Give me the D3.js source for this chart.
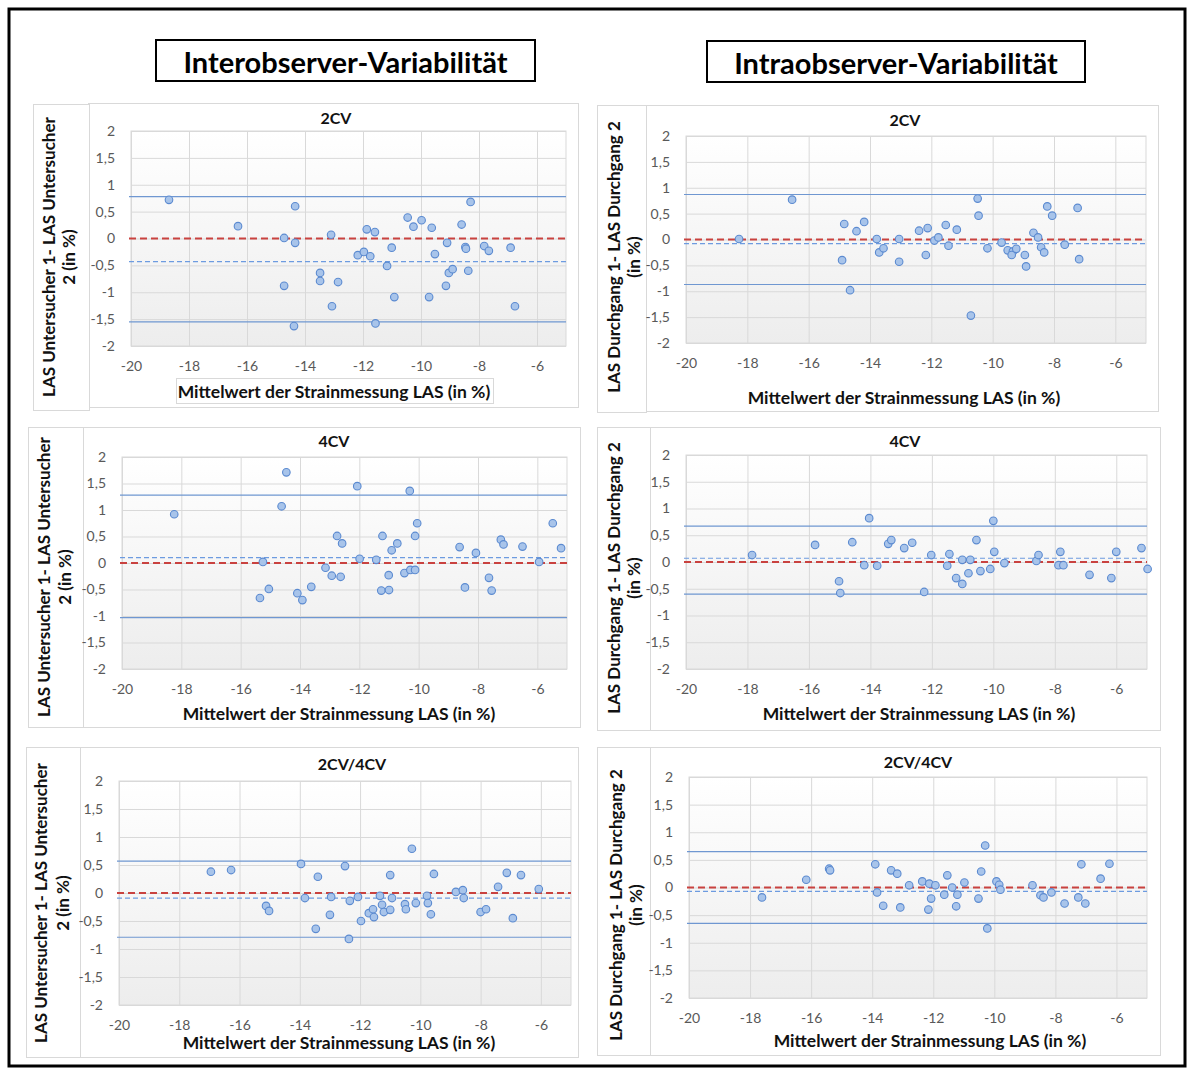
<!DOCTYPE html>
<html><head><meta charset="utf-8">
<script src="https://cdn.jsdelivr.net/npm/d3@7"></script>
<style>
html,body{margin:0;padding:0;background:#fff;}
svg text{font-family:Lato,"Open Sans",sans-serif;}
</style></head>
<body>
<svg id="c" width="1187" height="1068"></svg>
<script>
// ---------- DATA ----------
const yTickValues = [2, 1.5, 1, 0.5, 0, -0.5, -1, -1.5, -2];
const xTickValues = [-20, -18, -16, -14, -12, -10, -8, -6];
const headerLabels = ["Interobserver-Variabilität", "Intraobserver-Variabilität"];
const xAxisTitle = "Mittelwert der Strainmessung LAS (in %)";
const yTitleInter = ["LAS Untersucher 1- LAS Untersucher", "2 (in %)"];
const yTitleIntra = ["LAS Durchgang 1- LAS Durchgang 2", "(in %)"];
const chartTitles = ["2CV", "2CV", "4CV", "4CV", "2CV/4CV", "2CV/4CV"];

const inter2CV = [[-18.69,0.72],[-16.31,0.23],[-14.34,0.60],[-14.72,0.01],[-14.34,-0.08],[-14.72,-0.88],[-14.38,-1.63],[-13.10,0.07],[-13.48,-0.64],[-13.48,-0.79],[-12.86,-0.81],[-13.07,-1.26],[-11.87,0.17],[-11.59,0.12],[-12.18,-0.31],[-11.97,-0.25],[-11.75,-0.33],[-11.01,-0.17],[-11.17,-0.51],[-11.57,-1.58],[-10.92,-1.09],[-10.46,0.39],[-10.26,0.22],[-9.98,0.34],[-9.63,0.20],[-9.52,-0.29],[-9.72,-1.09],[-9.10,-0.08],[-9.14,-0.88],[-9.04,-0.64],[-8.91,-0.57],[-8.37,-0.60],[-8.60,0.26],[-8.29,0.68],[-8.47,-0.16],[-8.45,-0.19],[-7.82,-0.14],[-7.66,-0.23],[-6.91,-0.17],[-6.76,-1.26]];
const inter2CVLines = [0.78, -0.43, -1.55];

const intra2CV = [[-18.27,0.01],[-16.54,0.77],[-14.84,0.30],[-14.44,0.16],[-14.19,0.34],[-13.78,0.01],[-13.70,-0.25],[-13.56,-0.17],[-14.91,-0.40],[-14.65,-0.98],[-13.05,0.01],[-13.05,-0.43],[-12.40,0.17],[-12.12,0.22],[-12.18,-0.30],[-11.90,-0.02],[-11.77,0.04],[-11.53,0.28],[-11.44,-0.12],[-11.17,0.19],[-10.49,0.79],[-10.46,0.46],[-10.71,-1.47],[-10.17,-0.17],[-9.71,-0.06],[-9.51,-0.21],[-9.34,-0.23],[-9.38,-0.30],[-9.23,-0.18],[-8.95,-0.30],[-8.91,-0.52],[-8.67,0.13],[-8.52,0.04],[-8.42,-0.15],[-8.32,-0.25],[-8.22,0.64],[-8.06,0.46],[-7.65,-0.10],[-7.23,0.61],[-7.18,-0.38]];
const intra2CVLines = [0.87, -0.08, -0.87];

const inter4CV = [[-18.24,0.92],[-14.46,1.71],[-14.62,1.07],[-15.25,0.02],[-15.35,-0.66],[-15.05,-0.49],[-14.09,-0.57],[-13.92,-0.70],[-13.62,-0.45],[-13.14,-0.09],[-12.93,-0.24],[-12.63,-0.26],[-12.75,0.51],[-12.58,0.37],[-12.07,1.45],[-11.99,0.08],[-11.43,0.06],[-11.22,0.51],[-11.26,-0.52],[-11.00,-0.51],[-11.01,-0.23],[-10.91,0.24],[-10.72,0.37],[-10.30,1.36],[-10.05,0.75],[-10.12,0.51],[-10.48,-0.19],[-10.28,-0.13],[-10.12,-0.13],[-8.62,0.30],[-8.44,-0.46],[-8.07,0.19],[-7.63,-0.28],[-7.54,-0.52],[-7.23,0.44],[-7.14,0.35],[-6.50,0.31],[-5.94,0.02],[-5.48,0.75],[-5.20,0.28]];
const inter4CVLines = [1.28, 0.10, -1.03];

const intra4CV = [[-17.85,0.13],[-15.80,0.32],[-14.59,0.37],[-14.04,0.82],[-14.20,-0.06],[-13.78,-0.07],[-13.42,0.34],[-13.32,0.41],[-12.90,0.26],[-12.64,0.36],[-15.02,-0.36],[-14.98,-0.58],[-12.25,-0.56],[-12.02,0.13],[-11.50,-0.07],[-11.43,0.15],[-11.21,-0.30],[-11.01,-0.41],[-11.01,0.04],[-10.81,-0.21],[-10.75,0.04],[-10.55,0.41],[-10.42,-0.17],[-10.10,-0.13],[-10.00,0.77],[-9.97,0.19],[-9.64,-0.02],[-8.60,0.02],[-8.53,0.13],[-7.88,-0.06],[-7.82,0.19],[-7.72,-0.06],[-6.87,-0.24],[-6.16,-0.30],[-6.00,0.19],[-5.18,0.26],[-4.98,-0.13]];
const intra4CVLines = [0.67, 0.07, -0.60];

const inter2CV4CV = [[-16.95,0.38],[-16.28,0.41],[-15.12,-0.23],[-15.02,-0.32],[-13.96,0.52],[-13.83,-0.09],[-13.40,0.29],[-13.47,-0.64],[-13.00,-0.39],[-12.96,-0.07],[-12.50,0.48],[-12.37,-0.82],[-12.34,-0.14],[-12.07,-0.07],[-11.97,-0.50],[-11.71,-0.36],[-11.57,-0.29],[-11.54,-0.43],[-11.34,-0.05],[-11.27,-0.21],[-11.21,-0.34],[-11.00,-0.30],[-11.00,0.32],[-10.94,-0.09],[-10.51,-0.20],[-10.48,-0.29],[-10.28,0.79],[-10.15,-0.18],[-9.78,-0.05],[-9.75,-0.18],[-9.65,-0.38],[-9.55,0.34],[-8.82,0.02],[-8.59,0.05],[-8.56,-0.09],[-8.00,-0.34],[-7.82,-0.29],[-7.42,0.11],[-7.13,0.36],[-6.93,-0.45],[-6.66,0.32],[-6.07,0.07]];
const inter2CV4CVLines = [0.57, -0.09, -0.79];

const intra2CV4CV = [[-17.61,-0.18],[-16.16,0.14],[-15.41,0.34],[-15.38,0.31],[-13.90,0.42],[-13.84,-0.09],[-13.64,-0.33],[-13.38,0.31],[-13.18,0.25],[-13.08,-0.36],[-12.79,0.04],[-12.36,0.11],[-12.16,-0.40],[-12.13,0.07],[-12.07,-0.20],[-11.93,0.04],[-11.64,-0.13],[-11.54,0.22],[-11.38,0.00],[-11.25,-0.34],[-11.21,-0.13],[-10.98,0.09],[-10.52,-0.20],[-10.30,0.76],[-10.23,-0.74],[-10.43,0.29],[-9.93,0.11],[-9.84,0.05],[-9.80,-0.04],[-8.75,0.04],[-8.49,-0.14],[-8.39,-0.18],[-8.13,-0.09],[-7.70,-0.29],[-7.25,-0.18],[-7.15,0.42],[-7.02,-0.29],[-6.52,0.16],[-6.23,0.43]];
const intra2CV4CVLines = [0.65, -0.07, -0.65];

// ---------- LAYOUT ----------
const panels = [
  {pts: inter2CV, lines: inter2CVLines, title: chartTitles[0], yt: yTitleInter,
   plot:[131,131,566,346], box:[88,103,578,407], tbox:[33,104,89,410], tx:336, ty:117, xtx:334, xty:391, xbox:true, ytx:[48,68], yty:257},
  {pts: intra2CV, lines: intra2CVLines, title: chartTitles[1], yt: yTitleIntra,
   plot:[686,136,1146,343], box:[646,105,1158,411], tbox:[597,105,646,412], tx:905, ty:119, xtx:904, xty:397, xbox:false, ytx:[613,633], yty:257},
  {pts: inter4CV, lines: inter4CVLines, title: chartTitles[2], yt: yTitleInter,
   plot:[122,457,567,669], box:[83,427,580,727], tbox:[28,427,83,727], tx:334, ty:440, xtx:339, xty:713, xbox:false, ytx:[43,64], yty:577},
  {pts: intra4CV, lines: intra4CVLines, title: chartTitles[3], yt: yTitleIntra,
   plot:[686,455,1147,669], box:[650,427,1160,730], tbox:[597,427,650,730], tx:905, ty:440, xtx:919, xty:713, xbox:false, ytx:[613,633], yty:578},
  {pts: inter2CV4CV, lines: inter2CV4CVLines, title: chartTitles[4], yt: yTitleInter,
   plot:[119,781,571,1005], box:[80,747,578,1057], tbox:[26,747,80,1057], tx:352, ty:763, xtx:339, xty:1042, xbox:false, ytx:[40,62], yty:903},
  {pts: intra2CV4CV, lines: intra2CV4CVLines, title: chartTitles[5], yt: yTitleIntra,
   plot:[689,777,1147,998], box:[650,747,1160,1055], tbox:[597,747,650,1055], tx:918, ty:761, xtx:930, xty:1040, xbox:false, ytx:[615,635], yty:905}
];

const svg = d3.select("#c");
const defs = svg.append("defs");
const grad = defs.append("linearGradient").attr("id","pa").attr("x1",0).attr("y1",0).attr("x2",0).attr("y2",1);
grad.append("stop").attr("offset","0%").attr("stop-color","#ffffff");
grad.append("stop").attr("offset","100%").attr("stop-color","#ededed");

const fmt = v => String(v).replace(".", ",");

panels.forEach(p => {
  const g = svg.append("g");
  const [bx0,by0,bx1,by1] = p.box;
  g.append("rect").attr("x",bx0+0.5).attr("y",by0+0.5).attr("width",bx1-bx0).attr("height",by1-by0)
    .attr("fill","#fff").attr("stroke","#d9d9d9");
  const [tx0,ty0,tx1,ty1] = p.tbox;
  g.append("rect").attr("x",tx0+0.5).attr("y",ty0+0.5).attr("width",tx1-tx0).attr("height",ty1-ty0)
    .attr("fill","#fff").attr("stroke","#d9d9d9");

  const [px0,py0,px1,py1] = p.plot;
  const x = d3.scaleLinear().domain([-20,-5]).range([px0,px1]);
  const y = d3.scaleLinear().domain([-2,2]).range([py1,py0]);

  g.append("rect").attr("x",px0).attr("y",py0).attr("width",px1-px0).attr("height",py1-py0)
    .attr("fill","url(#pa)").attr("stroke","#d9d9d9");

  // gridlines
  g.append("g").attr("transform",`translate(0,${py1})`)
    .call(d3.axisBottom(x).tickValues(xTickValues).tickSize(-(py1-py0)).tickFormat(""))
    .call(a=>{a.select(".domain").remove(); a.selectAll("line").attr("stroke","#d9d9d9");});
  g.append("g").attr("transform",`translate(${px0},0)`)
    .call(d3.axisLeft(y).tickValues(yTickValues).tickSize(-(px1-px0)).tickFormat(""))
    .call(a=>{a.select(".domain").remove(); a.selectAll("line").attr("stroke","#d9d9d9");});

  // tick labels
  g.append("g").attr("transform",`translate(0,${py1+12})`)
    .call(d3.axisBottom(x).tickValues(xTickValues).tickSize(0).tickFormat(fmt))
    .call(a=>{a.select(".domain").remove(); a.selectAll("text").attr("fill","#595959").attr("font-size","14px").attr("font-family","Lato");});
  g.append("g").attr("transform",`translate(${px0-13},0)`)
    .call(d3.axisLeft(y).tickValues(yTickValues).tickSize(0).tickFormat(fmt))
    .call(a=>{a.select(".domain").remove(); a.selectAll("text").attr("fill","#595959").attr("font-size","14px").attr("font-family","Lato");});

  // reference lines
  const [up, mean, lo] = p.lines;
  const hl = (v, col, w, dash) => g.append("line").attr("x1",px0-2).attr("x2",px1).attr("y1",y(v)).attr("y2",y(v))
      .attr("stroke",col).attr("stroke-width",w).attr("stroke-dasharray",dash||null);
  hl(up, "#6f97d1", 1.2);
  hl(lo, "#6f97d1", 1.2);
  hl(mean, "#6d9be0", 1.2, "5,3");
  hl(0, "#c9423f", 2, "7,4");

  // points
  g.append("g").selectAll("circle").data(p.pts).join("circle")
    .attr("cx",d=>x(d[0])).attr("cy",d=>y(d[1])).attr("r",3.8)
    .attr("fill","#a8c4ea").attr("stroke","#5b8ad0").attr("stroke-width",1.1);

  // chart title
  g.append("text").attr("x",p.tx).attr("y",p.ty).attr("text-anchor","middle").attr("dominant-baseline","central")
    .attr("font-weight","bold").attr("font-size","16px").attr("fill","#111").text(p.title);

  // x axis title
  if (p.xbox) {
    g.append("rect").attr("x",176.5).attr("y",378.5).attr("width",317).attr("height",25)
      .attr("fill","#fff").attr("stroke","#d9d9d9");
  }
  g.append("text").attr("x",p.xtx).attr("y",p.xty).attr("text-anchor","middle").attr("dominant-baseline","central")
    .attr("font-weight","bold").attr("font-size","17.5px").attr("fill","#111").text(xAxisTitle);

  // y axis title (rotated, two lines)
  p.yt.forEach((line, i) => {
    g.append("text").attr("transform",`translate(${p.ytx[i]},${p.yty}) rotate(-90)`)
      .attr("text-anchor","middle").attr("dominant-baseline","central")
      .attr("font-weight","bold").attr("font-size","17px").attr("fill","#111").text(line);
  });
});

// headers
const hdr = [[156,40,535,81],[707,41,1085,82]];
hdr.forEach((h,i)=>{
  svg.append("rect").attr("x",h[0]).attr("y",h[1]).attr("width",h[2]-h[0]).attr("height",h[3]-h[1])
    .attr("fill","#fff").attr("stroke","#000").attr("stroke-width",2);
  svg.append("text").attr("x",(h[0]+h[2])/2).attr("y",(h[1]+h[3])/2+1).attr("text-anchor","middle").attr("dominant-baseline","central")
    .attr("font-weight","bold").attr("font-size","29px").attr("fill","#000").text(headerLabels[i]);
});

// outer frame
svg.append("rect").attr("x",9).attr("y",9).attr("width",1176).attr("height",1057)
  .attr("fill","none").attr("stroke","#000").attr("stroke-width",3);
</script>
</body></html>
